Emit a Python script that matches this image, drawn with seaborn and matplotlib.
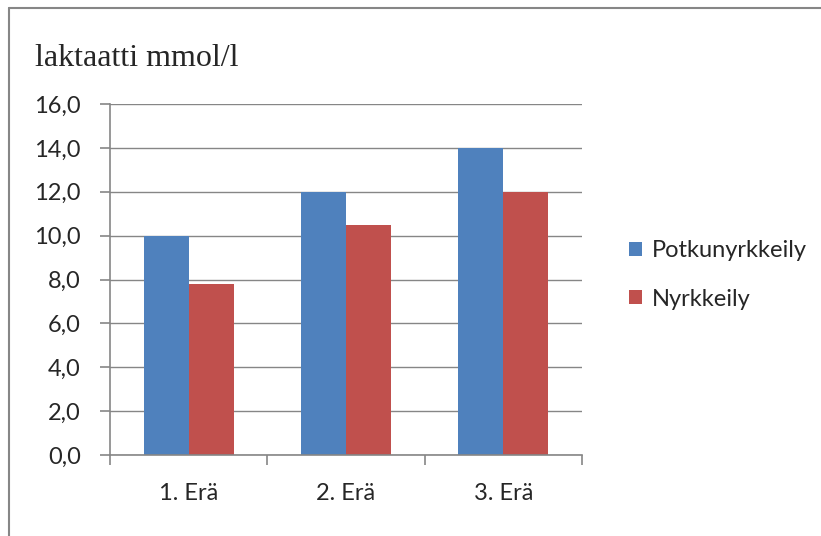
import matplotlib
matplotlib.use("Agg")
import matplotlib.pyplot as plt
import seaborn as sns
import pandas as pd
from matplotlib.lines import Line2D
from matplotlib.patches import Patch

categories = ["1. Erä", "2. Erä", "3. Erä"]
series_names = ["Potkunyrkkeily", "Nyrkkeily"]
potkunyrkkeily = [10.0, 12.0, 14.0]
nyrkkeily = [7.8, 10.5, 12.0]
yticks = [0, 2, 4, 6, 8, 10, 12, 14, 16]
colors = ["#4F81BD", "#C0504D"]

df = pd.DataFrame({
    "cat": categories * 2,
    "val": potkunyrkkeily + nyrkkeily,
    "series": [series_names[0]] * 3 + [series_names[1]] * 3,
})

sns.set_style("white")
plt.rcParams["font.family"] = ["Lato", "DejaVu Sans"]

W, H = 821, 536
fig = plt.figure(figsize=(W / 100, H / 100), dpi=100)
ax = fig.add_axes([110 / W, (H - 455) / H, 472 / W, 351 / H])

sns.barplot(data=df, x="cat", y="val", hue="series", palette=colors,
            width=0.573, saturation=1, ax=ax, legend=False, linewidth=0)

gray = "#868686"
fs = 17
ax.set_ylim(0, 16)
ax.set_xlim(-0.5, 2.5)
ax.set_yticks(yticks)
ax.set_yticklabels([f"{v:.1f}".replace(".", ",") for v in yticks], fontsize=fs)
ax.grid(axis="y", color=gray, linewidth=1)
ax.set_axisbelow(True)
for s in ["top", "right"]:
    ax.spines[s].set_visible(False)
for s in ["left", "bottom"]:
    ax.spines[s].set_color(gray)
    ax.spines[s].set_linewidth(1.2)
ax.tick_params(axis="y", length=7, color=gray, width=1.2, pad=14, left=True)
ax.set_xticks([0, 1, 2])
ax.set_xticklabels(categories, fontsize=fs)
ax.tick_params(axis="x", which="major", length=0, pad=20)
ax.set_xticks([-0.5, 0.5, 1.5, 2.5], minor=True)
ax.tick_params(axis="x", which="minor", length=7, color=gray, width=1.2, bottom=True)
ax.set_xlabel("")
ax.set_ylabel("")

fig.text(35 / W, 1 - 59 / H, "laktaatti mmol/l", fontsize=23,
         family=["Liberation Serif", "DejaVu Serif"], va="center", ha="left")

handles = [Patch(facecolor=c, edgecolor="none") for c in colors]
fig.legend(handles, series_names, loc="center left",
           bbox_to_anchor=(608 / W, 1 - 275 / H), frameon=False, fontsize=fs,
           handlelength=0.55, handleheight=0.55, handletextpad=0.4,
           labelspacing=1.15)

fig.add_artist(Line2D([9 / W, 9 / W], [0, 1 - 8 / H], color=gray, linewidth=1.5,
                      transform=fig.transFigure))
fig.add_artist(Line2D([9 / W, 1], [1 - 8 / H, 1 - 8 / H], color=gray, linewidth=1.5,
                      transform=fig.transFigure))

fig.savefig("out.png", dpi=100)
